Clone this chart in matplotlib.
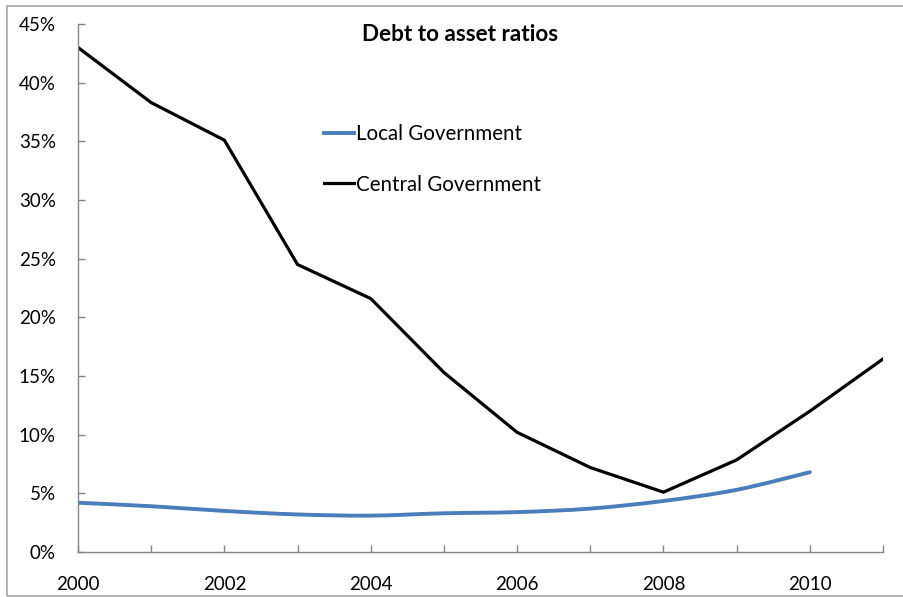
import matplotlib
matplotlib.use("Agg")
import matplotlib.pyplot as plt
from matplotlib.path import Path
from matplotlib.patches import PathPatch, Rectangle
from matplotlib.lines import Line2D
import numpy as np

plt.rcParams['font.family'] = ['Lato', 'DejaVu Sans']

years = list(range(2000, 2012))
central_gov = [43.0, 38.3, 35.1, 24.5, 21.6, 15.3, 10.2, 7.2, 5.1, 7.85, 12.0, 16.45]
local_years = list(range(2000, 2011))
local_gov = [4.2, 3.9, 3.5, 3.2, 3.1, 3.3, 3.4, 3.7, 4.35, 5.3, 6.8]
y_ticks = [0, 5, 10, 15, 20, 25, 30, 35, 40, 45]
x_label_years = [2000, 2002, 2004, 2006, 2008, 2010]

LOCAL_COLOR = '#4A7EBB'
AXIS_COLOR = '#868686'

fig = plt.figure(figsize=(9.04, 5.97), dpi=100)
ax = fig.add_axes([78 / 904, 1 - 552 / 597, (883 - 78) / 904, (552 - 24) / 597])

# outer chart border
fig.patches.append(Rectangle((7 / 904, 1 - 596 / 597), 1.0, (596 - 6) / 597,
                             transform=fig.transFigure, fill=False,
                             edgecolor='#a6a6a6', linewidth=1.2))


def smooth_path(xs, ys, tension=1 / 6):
    """Cubic Bezier path through the points (Catmull-Rom style smoothing)."""
    pts = np.column_stack([xs, ys]).astype(float)
    verts = [pts[0]]
    codes = [Path.MOVETO]
    n = len(pts)
    for i in range(n - 1):
        p0 = pts[i - 1] if i > 0 else pts[i]
        p1 = pts[i]
        p2 = pts[i + 1]
        p3 = pts[i + 2] if i + 2 < n else pts[i + 1]
        c1 = p1 + (p2 - p0) * tension
        c2 = p2 - (p3 - p1) * tension
        verts += [c1, c2, p2]
        codes += [Path.CURVE4] * 3
    return Path(verts, codes)


ax.add_patch(PathPatch(smooth_path(local_years, local_gov), fill=False,
                       edgecolor=LOCAL_COLOR, linewidth=2.8,
                       capstyle='round', joinstyle='round'))
ax.plot(years, central_gov, color='black', linewidth=2.3, solid_joinstyle='miter')

ax.set_xlim(2000, 2011)
ax.set_ylim(0, 45)

ax.set_yticks(y_ticks)
ax.set_yticklabels([f'{v}%' for v in y_ticks])
ax.set_xticks(x_label_years)
ax.set_xticklabels([str(y) for y in x_label_years])
ax.set_xticks(years, minor=True)

for s in ['top', 'right']:
    ax.spines[s].set_visible(False)
for s in ['left', 'bottom']:
    ax.spines[s].set_color(AXIS_COLOR)
    ax.spines[s].set_linewidth(1.0)

ax.tick_params(axis='y', direction='in', length=5, width=1, color=AXIS_COLOR,
               labelsize=13.5, pad=16, labelcolor='black')
ax.tick_params(axis='x', which='both', direction='in', length=5, width=1,
               color=AXIS_COLOR, labelsize=13.5, pad=17, labelcolor='black')

ax.text((460 - 78) / 805, 1.0, 'Debt to asset ratios', transform=ax.transAxes,
        ha='center', va='top', fontsize=16.2, fontweight='bold')

handles = [Line2D([], [], color=LOCAL_COLOR, linewidth=2.8),
           Line2D([], [], color='black', linewidth=2.3)]
ax.legend(handles, ['Local Government', 'Central Government'],
          loc='upper left', bbox_to_anchor=((325 - 78) / 805 - 0.012, (552 - 116) / 528),
          frameon=False, fontsize=14.8, handlelength=1.5, handletextpad=0.1,
          labelspacing=1.48, borderaxespad=0)

fig.savefig('out.png', dpi=100, facecolor='white')
